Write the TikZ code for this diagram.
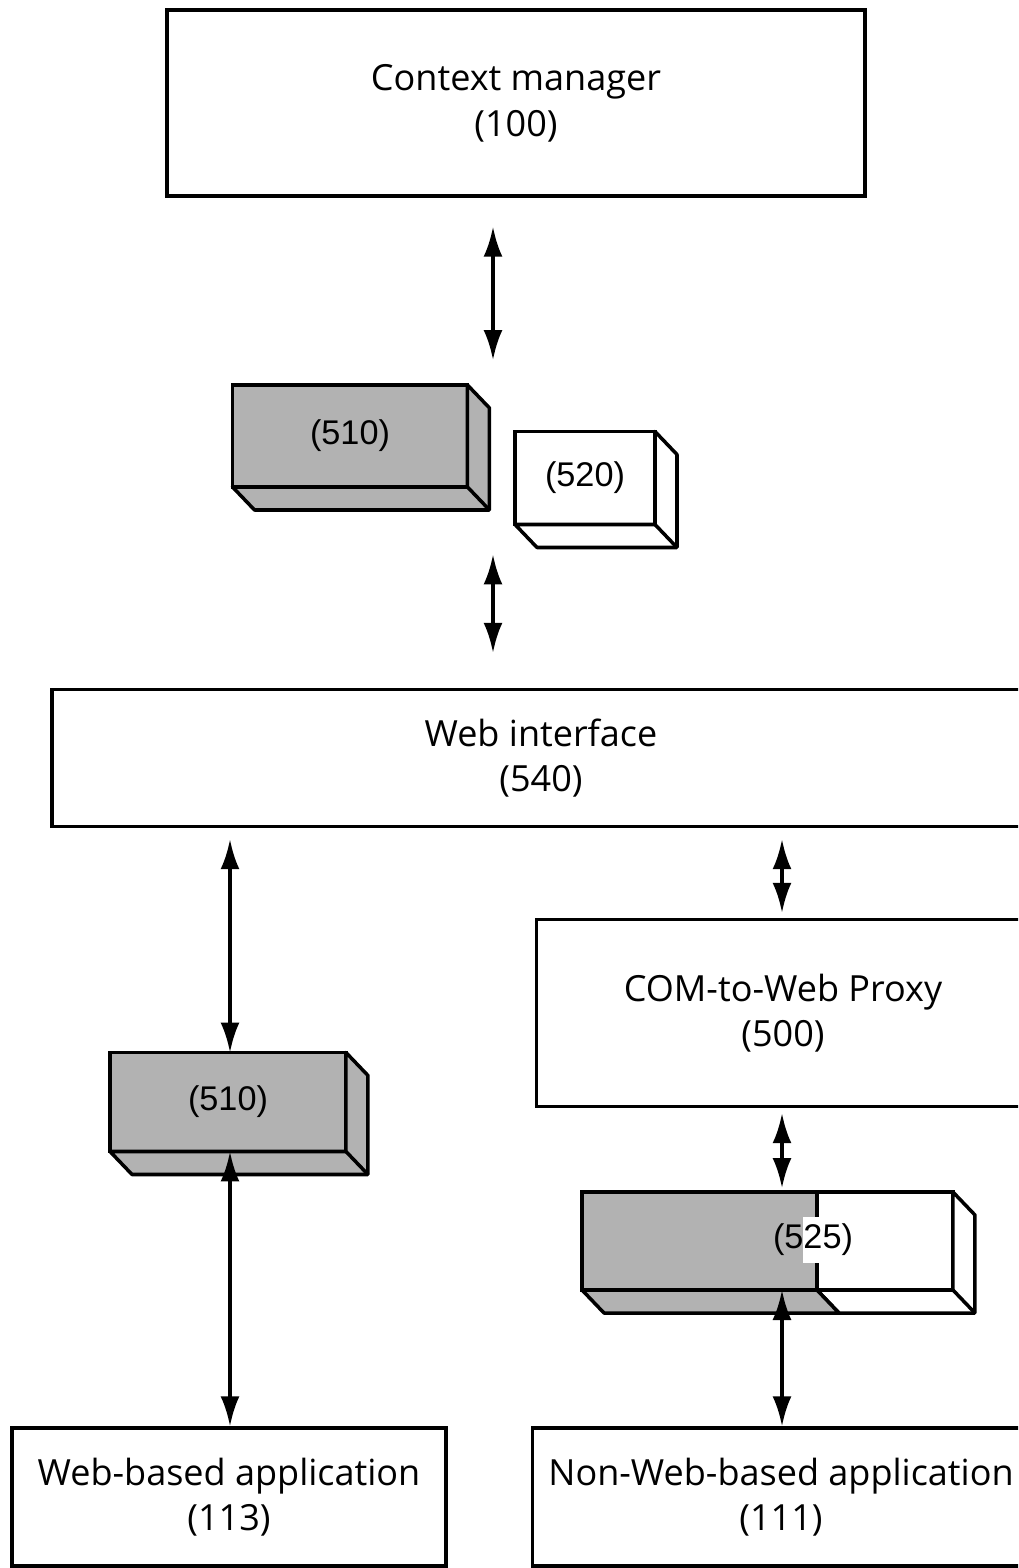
\documentclass[tikz,border=0pt]{standalone}
\usepackage{fontspec}
\setmainfont{Open Sans}
\newfontfamily\numfont{Liberation Sans}
\usetikzlibrary{arrows.meta,positioning,calc}

% sides of a block, drawn down and to the right of its front face
\newcommand{\blockside}[2]{%
  \filldraw[line width=2pt,line join=round,#2] (#1.north east) -- ++(22,23)
    -- ($(#1.south east)+(22,23)$) -- ($(#1.south west)+(22,23)$) -- (#1.south west)
    -- (#1.south east) -- cycle;
  \draw[line width=2pt] (#1.south east) -- ++(22,23);}

\begin{document}
\begin{tikzpicture}[x=0.02cm,y=-0.02cm,
    box/.style={draw,line width=2pt,fill=white,align=center,inner sep=0pt,
      font=\fontsize{20.5}{26}\selectfont},
    block/.style={draw,line width=2pt,inner sep=0pt,outer sep=0pt,
      font=\numfont\fontsize{19.5}{22}\selectfont},
    grainy/.style={fill=black!30},
    dbl/.style={{Latex[length=0.6cm,width=0.38cm]}-{Latex[length=0.6cm,width=0.38cm]},line width=2pt}]
    \useasboundingbox (0,0) rectangle (1018,1568);
    \clip (0,0) rectangle (1018,1568);

    \coordinate (axm) at (493,0);
    \coordinate (axl) at (230,0);
    \coordinate (axr) at (782,0);

    \node[box,minimum width=13.96cm,minimum height=3.72cm] (cm) at (516,103) {Context manager\\(100)};
    \node[box,minimum width=19.56cm,minimum height=2.74cm] (web) at (541,758) {Web interface\\(540)};
    \node[box,minimum width=9.86cm,minimum height=3.74cm] (proxy) at (783,1013) {COM-to-Web Proxy\\(500)};
    \node[box,minimum width=8.68cm,minimum height=2.76cm] (webapp) at (229,1497) {Web-based application\\(113)};
    \node[box,minimum width=9.94cm,minimum height=2.76cm] (nonweb) at (781,1497) {Non-Web-based application\\(111)};

    % blocks
    \node[block,grainy,minimum width=4.7cm,minimum height=2.04cm] (c510a) at (350,436) {(510)};
    \blockside{c510a}{grainy}
    \node[block,fill=white,minimum width=2.8cm,minimum height=1.86cm] (c520) at (585,478) {(520)};
    \blockside{c520}{fill=white}
    \node[block,grainy,minimum width=4.72cm,minimum height=1.98cm] (c510b) at (228,1102) {(510)};
    \blockside{c510b}{grainy}

    \node[block,grainy,minimum width=4.7cm,minimum height=1.96cm] (c525a) at (699.5,1241) {};
    \node[block,fill=white,minimum width=2.72cm,minimum height=1.96cm,right=0pt of c525a] (c525b) {};
    \blockside{c525b}{fill=white}
    \filldraw[line width=2pt,line join=round,grainy] (c525a.south west) -- ++(22,23)
      -- ($(c525a.south east)+(22,23)$) -- (c525a.south east) -- cycle;
    \fill[white] ($(c525a.east)+(-14,-24)$) rectangle ($(c525a.east)+(4,22)$);
    \node[font=\numfont\fontsize{19.5}{22}\selectfont] (l525) at (813,1240) {(525)};

    \draw[dbl,shorten <=0.58cm,shorten >=0.5cm] (cm.south -| axm) -- (c510a.north -| axm);
    \draw[dbl,shorten <=0.6cm,shorten >=0.7cm] (c520.south -| axm) -- (web.north -| axm);
    \draw[dbl,shorten <=0.22cm] (web.south -| axl) -- (c510b.north -| axl);
    \draw[dbl] (c510b.south -| axl) -- (webapp.north -| axl);
    \draw[dbl,shorten <=0.22cm,shorten >=0.1cm] (web.south -| axr) -- (proxy.north -| axr);
    \draw[dbl,shorten <=0.1cm,shorten >=0.08cm] (proxy.south -| axr) -- (c525a.north -| axr);
    \draw[dbl] (c525a.south -| axr) -- (nonweb.north -| axr);
\end{tikzpicture}
\end{document}
